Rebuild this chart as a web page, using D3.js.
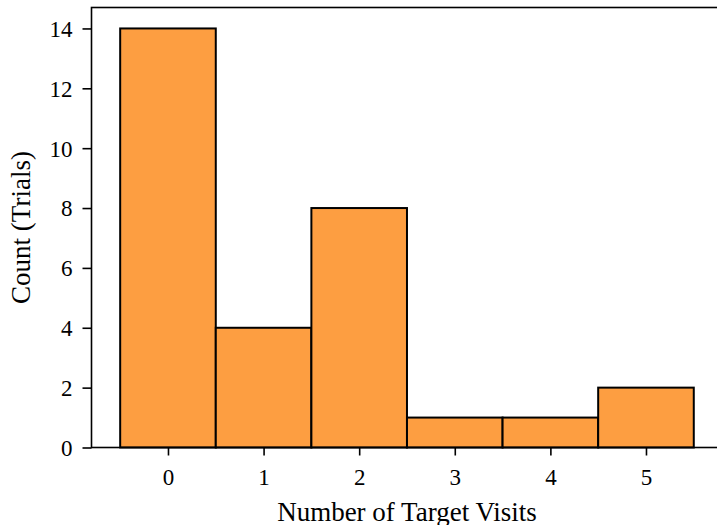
<!DOCTYPE html>
<html><head><meta charset="utf-8">
<script src="https://cdn.jsdelivr.net/npm/d3@7"></script>
<style>body{margin:0;background:#fff}svg{display:block}text{font-family:"Liberation Serif","Times New Roman",serif}</style>
</head><body>
<script>
const categories = [0, 1, 2, 3, 4, 5];
const counts = [14, 4, 8, 1, 1, 2];
const yTicks = [0, 2, 4, 6, 8, 10, 12, 14];
const xLabel = "Number of Target Visits";
const yLabel = "Count (Trials)";

const W = 717, H = 525;
const m = {left: 91.5, top: 7.5, bottom: 447.5};
const x = d3.scaleLinear().domain([-0.8, 5.8]).range([m.left, m.left + 6.6 * 95.6]);
const y = d3.scaleLinear().domain([0, 14.7]).range([m.bottom, m.top]);

const svg = d3.select("body").append("svg").attr("width", W).attr("height", H);

svg.append("g").selectAll("rect").data(categories).join("rect")
  .attr("x", d => x(d - 0.5)).attr("width", d => x(d + 0.5) - x(d - 0.5))
  .attr("y", (d, i) => y(counts[i])).attr("height", (d, i) => y(0) - y(counts[i]))
  .attr("fill", "#fd9e41").attr("stroke", "#000").attr("stroke-width", 2);

const xa = svg.append("g").attr("transform", `translate(0,${m.bottom})`)
  .call(d3.axisBottom(x).tickValues(categories).tickFormat(d3.format("d")).tickSizeOuter(0).tickSize(8).tickPadding(0));
const ya = svg.append("g").attr("transform", `translate(${m.left},0)`)
  .call(d3.axisLeft(y).tickValues(yTicks).tickFormat(d3.format("d")).tickSizeOuter(0).tickSize(9).tickPadding(10));
[xa, ya].forEach(a => {
  a.select(".domain").remove();
  a.selectAll("line").attr("stroke", "#000").attr("stroke-width", 1.6);
  a.selectAll("text").style("font-size", "23px").attr("fill", "#000").style("font-family", '"Liberation Serif",serif');
});
xa.selectAll("text").attr("dy", null).attr("y", 37.5);
ya.selectAll("text").attr("dy", "0.34em");

// spines
svg.append("rect").attr("x", m.left).attr("y", m.top)
  .attr("width", x(5.8) - m.left).attr("height", m.bottom - m.top)
  .attr("fill", "none").attr("stroke", "#000").attr("stroke-width", 1.6);

svg.append("text").attr("x", 407).attr("y", 521)
  .attr("text-anchor", "middle").style("font-size", "27px").text(xLabel);
svg.append("text").attr("transform", `translate(30,227.5) rotate(-90)`)
  .attr("text-anchor", "middle").style("font-size", "27px").text(yLabel);
</script>
</body></html>
